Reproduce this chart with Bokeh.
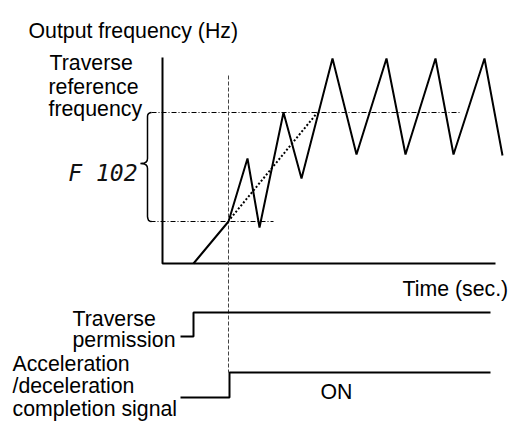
from bokeh.plotting import figure
from bokeh.models import Range1d
from bokeh.core.properties import value
from bokeh.embed import file_html
from bokeh.resources import INLINE

# ---- data (time units, frequency units; baseline = 0) ----
freq_t = [31, 66, 85, 97, 121, 139, 170, 194, 224, 243, 273, 291, 322, 340]
freq_f = [0, 42, 105, 36, 151, 85, 205, 109, 205, 109, 205, 109, 205, 108]

ref_upper = 151          # traverse reference frequency
ref_lower = 42           # frequency at end of acceleration
accel_end_t = 66         # time where acceleration completes
ramp_end_t = 155         # dotted ramp reaches reference

axis_top = 206
axis_end_t = 333

perm_t = [18, 31, 31, 328]
perm_f = [-73, -73, -49, -49]

acc_t = [18, 67, 67, 328]
acc_f = [-134, -134, -109, -109]

brace_t = [-11, -12.6, -14, -14.8, -15, -15, -15.3, -16.3, -18, -22,
           -18, -16.3, -15.3, -15, -15, -14.8, -14, -12.6, -11]
brace_f = [151, 150.7, 149.8, 148.5, 147, 105, 103, 101.5, 100.6, 100,
           99.4, 98.5, 97, 95, 47, 45.5, 43.2, 42.3, 42]

labels = ["Output frequency (Hz)", "Traverse", "reference", "frequency",
          "Time (sec.)", "Traverse", "permission", "Acceleration",
          "/deceleration", "completion signal", "ON"]
label_t = [-134, -113, -114, -114, 240, -90, -90, -150, -150, -150, 158]
label_f = [233, 201, 177, 155, -25, -55, -76, -100, -122, -145, -128]

FONT = value("Liberation Sans")

p = figure(width=511, height=424, output_backend="svg", toolbar_location=None,
           x_range=Range1d(-162, 349), y_range=Range1d(-161, 263),
           min_border=0, tools="")
p.axis.visible = False
p.grid.visible = False
p.outline_line_color = None
p.background_fill_color = "white"
p.border_fill_color = "white"

# axes of the diagram
p.line([0, 0, axis_end_t], [axis_top, 0, 0], line_color="black", line_width=2)

# reference dash-dot lines
p.line([-11, 298], [ref_upper, ref_upper], line_color="black", line_width=1, line_dash="5 2 1 2")
p.line([-12, 111], [ref_lower, ref_lower], line_color="black", line_width=1, line_dash="5 2 1 2")

# vertical dashed line at acceleration completion
p.line([accel_end_t, accel_end_t], [188, -109], line_color="#444444", line_width=1, line_dash="4 2")

# dotted ramp
p.line([accel_end_t + 2, ramp_end_t], [ref_lower + 3, ref_upper], line_color="black",
       line_width=2, line_dash="2 2")

# frequency curve
p.line(freq_t, freq_f, line_color="black", line_width=2)

# brace
p.line(brace_t, brace_f, line_color="black", line_width=1.5)

# signals
p.line(perm_t, perm_f, line_color="black", line_width=2)
p.line(acc_t, acc_f, line_color="black", line_width=2)

# labels
p.text(label_t, label_f, text=labels, text_font=FONT, text_font_size="21.3px",
       text_color="black", text_baseline="alphabetic", text_align="left")

p.text([-25], [91], text=["F 102"], text_font=value("DejaVu Sans Mono"),
       text_font_size="23px", text_font_style="italic", text_color="#111111",
       text_baseline="alphabetic", text_align="right")

open("out.html", "w").write(file_html(p, INLINE))
